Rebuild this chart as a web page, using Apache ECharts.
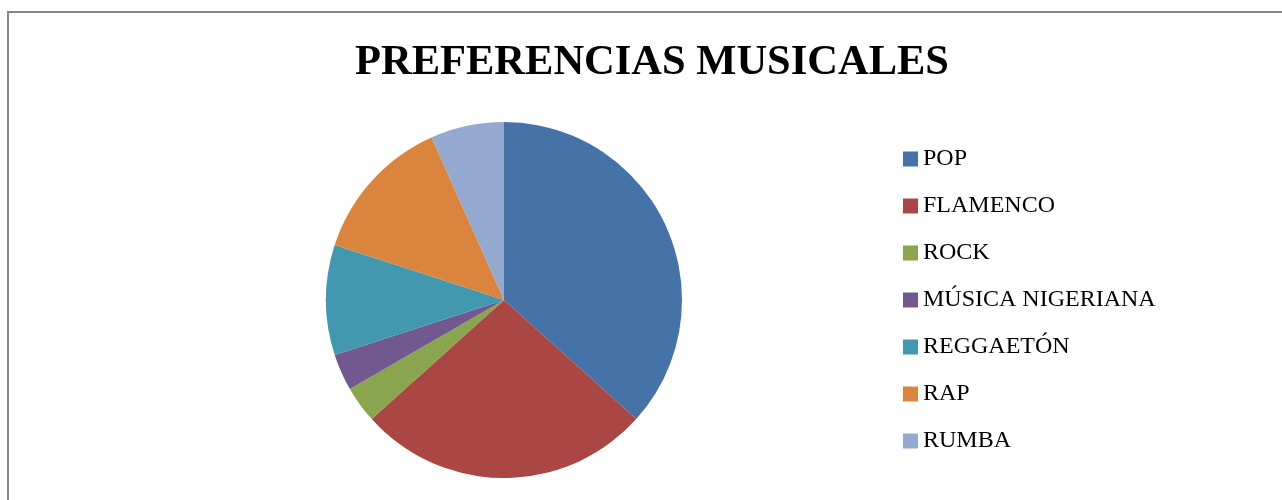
<!DOCTYPE html>
<html><head><meta charset="utf-8">
<script src="https://cdn.jsdelivr.net/npm/echarts@6/dist/echarts.min.js"></script>
<style>html,body{margin:0;padding:0;background:#fff}#c{width:1282px;height:500px}</style>
</head><body><div id="c"></div>
<script>
const categories = ['POP', 'FLAMENCO', 'ROCK', 'MÚSICA NIGERIANA', 'REGGAETÓN', 'RAP', 'RUMBA'];
const values = [11, 8, 1, 1, 3, 4, 2];
const colors = ['#4572A7', '#AA4643', '#89A54E', '#71588F', '#4198AF', '#DB843D', '#93A9CF'];
const chart = echarts.init(document.getElementById('c'));
chart.setOption({
  animation: false,
  color: colors,
  graphic: [{
    type: 'rect', shape: {x: 8, y: 12, width: 1400, height: 700},
    style: {fill: 'none', stroke: '#868686', lineWidth: 2}, silent: true
  }],
  title: {
    text: 'PREFERENCIAS MUSICALES', left: 647, top: 37, textAlign: 'center',
    textStyle: {fontFamily: 'Liberation Serif', fontWeight: 'bold', fontSize: 42.5, color: '#000'}
  },
  legend: {
    orient: 'vertical', left: 903, top: 147, padding: 0, itemWidth: 15, itemHeight: 15, itemGap: 23,
    icon: 'rect',
    textStyle: {fontFamily: 'Liberation Serif', fontSize: 24, color: '#000', lineHeight: 24},
    data: categories
  },
  series: [{
    type: 'pie', center: [504, 300], radius: 178, startAngle: 90, clockwise: true,
    label: {show: false}, labelLine: {show: false}, silent: true,
    itemStyle: {borderWidth: 0},
    data: categories.map((c, i) => ({name: c, value: values[i]}))
  }]
});
</script></body></html>
